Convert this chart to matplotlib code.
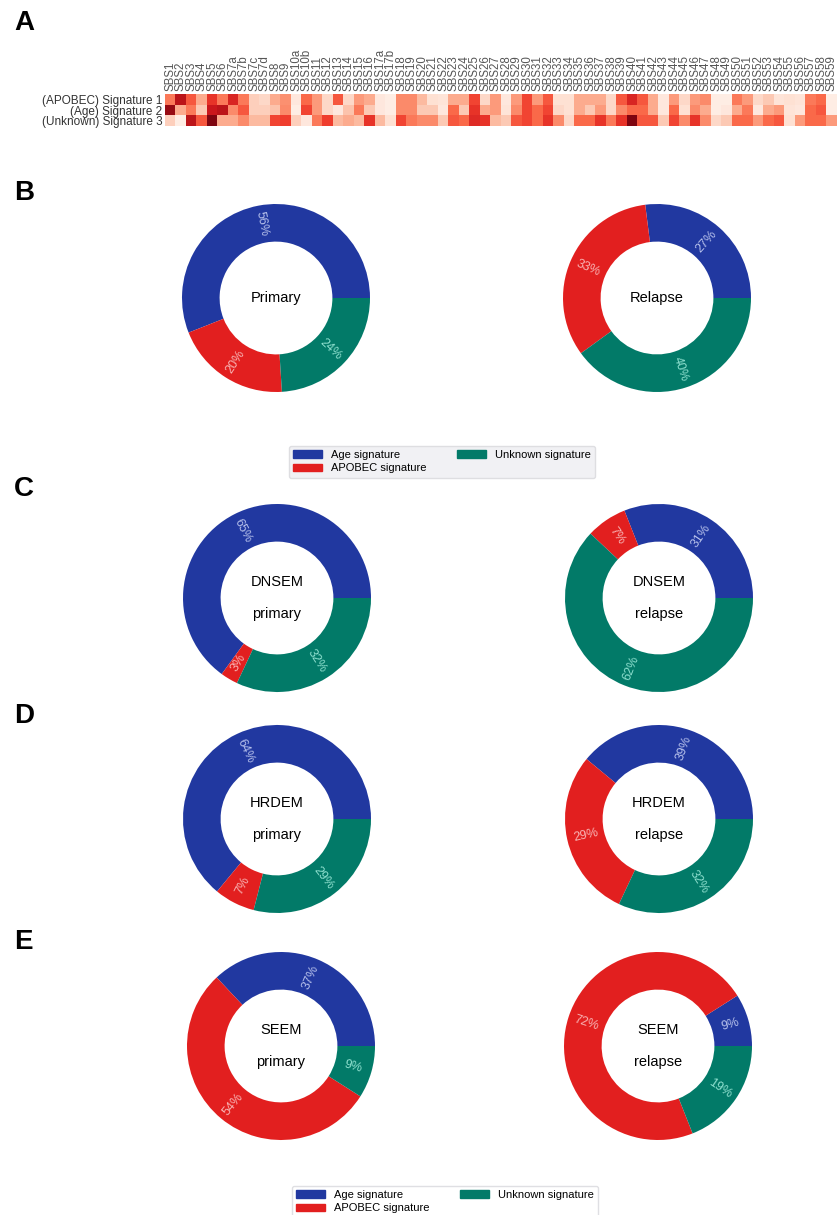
import numpy as np
import matplotlib.pyplot as plt
from matplotlib.colors import to_rgb
from matplotlib.patches import Patch

plt.rcParams['font.family'] = ['Liberation Sans', 'DejaVu Sans']

# --- heatmap data (signature weights, 0..1) ---
sbs_names = ['SBS1', 'SBS2', 'SBS3', 'SBS4', 'SBS5', 'SBS6', 'SBS7a', 'SBS7b', 'SBS7c', 'SBS7d',
             'SBS8', 'SBS9', 'SBS10a', 'SBS10b', 'SBS11', 'SBS12', 'SBS13', 'SBS14', 'SBS15', 'SBS16',
             'SBS17a', 'SBS17b'] + ['SBS%d' % i for i in range(18, 60)]
signature_rows = ['(APOBEC) Signature 1', '(Age) Signature 2', '(Unknown) Signature 3']

apobec_weights = [0.45, 0.80, 0.55, 0.30, 0.65, 0.45, 0.70, 0.45, 0.18, 0.15,
                  0.30, 0.38, 0.08, 0.50, 0.35, 0.15, 0.55, 0.15, 0.35, 0.30,
                  0.08, 0.05, 0.40, 0.40, 0.25, 0.12, 0.10, 0.30, 0.30, 0.60,
                  0.15, 0.35, 0.08, 0.35, 0.60, 0.35, 0.55, 0.12, 0.12, 0.30,
                  0.30, 0.30, 0.15, 0.55, 0.70, 0.55, 0.30, 0.08, 0.35, 0.15,
                  0.35, 0.40, 0.05, 0.05, 0.45, 0.35, 0.15, 0.20, 0.10, 0.12,
                  0.10, 0.45, 0.50, 0.05]
age_weights = [0.90, 0.30, 0.45, 0.20, 0.75, 0.80, 0.40, 0.55, 0.18, 0.18,
               0.22, 0.40, 0.05, 0.60, 0.35, 0.15, 0.08, 0.22, 0.45, 0.20,
               0.08, 0.05, 0.40, 0.40, 0.20, 0.20, 0.08, 0.50, 0.20, 0.65,
               0.30, 0.35, 0.10, 0.40, 0.60, 0.50, 0.60, 0.15, 0.12, 0.30,
               0.20, 0.35, 0.15, 0.40, 0.50, 0.50, 0.30, 0.08, 0.50, 0.12,
               0.40, 0.30, 0.05, 0.08, 0.30, 0.45, 0.08, 0.30, 0.35, 0.10,
               0.08, 0.50, 0.55, 0.05]
unknown_weights = [0.18, 0.05, 0.80, 0.55, 0.95, 0.30, 0.30, 0.40, 0.25, 0.25,
                   0.60, 0.62, 0.18, 0.08, 0.45, 0.62, 0.25, 0.30, 0.25, 0.65,
                   0.25, 0.12, 0.60, 0.45, 0.40, 0.40, 0.20, 0.55, 0.50, 0.68,
                   0.65, 0.25, 0.20, 0.55, 0.60, 0.50, 0.65, 0.40, 0.15, 0.50,
                   0.50, 0.65, 0.45, 0.65, 0.95, 0.55, 0.55, 0.20, 0.60, 0.40,
                   0.65, 0.40, 0.15, 0.20, 0.50, 0.50, 0.35, 0.50, 0.55, 0.12,
                   0.35, 0.50, 0.50, 0.35]

# --- donut data (% of mutations per signature) ---
sig_labels = ['Age signature', 'APOBEC signature', 'Unknown signature']
sig_colors = ['#2138a0', '#e21f1f', '#027a68']
pct_colors = ['#b8c2ec', '#f8b4b4', '#8fe0cf']

primary_all = [56, 20, 24]
relapse_all = [27, 33, 40]
dnsem_primary = [65, 3, 32]
dnsem_relapse = [31, 7, 62]
hrdem_primary = [64, 7, 29]
hrdem_relapse = [39, 29, 32]
seem_primary = [37, 54, 9]
seem_relapse = [9, 72, 19]

W, H = 839, 1215
fig = plt.figure(figsize=(W / 100, H / 100), dpi=100)


def px_axes(x0, y0, w, h):
    return fig.add_axes([x0 / W, 1 - (y0 + h) / H, w / W, h / H])


# panel A: heatmap
ax = px_axes(165, 94, 672, 32)
data = np.array([apobec_weights, age_weights, unknown_weights])
ax.imshow(data, cmap='Reds', aspect='auto', vmin=0, vmax=1, interpolation='nearest')
ax.xaxis.tick_top()
ax.set_xticks(range(len(sbs_names)))
ax.set_xticklabels(sbs_names, rotation=90, fontsize=8.3, color='#555555')
ax.set_yticks(range(3))
ax.set_yticklabels(signature_rows, fontsize=8.5, color='#333333')
ax.tick_params(length=0, pad=2)
for s in ax.spines.values():
    s.set_visible(False)


def donut(cx, cy, vals, title, r=94):
    ax = px_axes(cx - r, cy - r, 2 * r, 2 * r)
    wedges, _, autotexts = ax.pie(vals, colors=sig_colors, startangle=0, radius=1,
                                  autopct='%1.0f%%', pctdistance=0.8,
                                  wedgeprops=dict(width=0.4, edgecolor='none'),
                                  textprops=dict(fontsize=9))
    for w, t, pc in zip(wedges, autotexts, pct_colors):
        mid = (w.theta1 + w.theta2) / 2
        rot = mid if np.cos(np.radians(mid)) >= 0 else mid - 180
        t.set_rotation(rot)
        t.set_rotation_mode('anchor')
        t.set_ha('center')
        t.set_va('center')
        t.set_color(pc)
    lines = title.split('\n')
    if len(lines) == 1:
        ax.text(0, 0, lines[0], ha='center', va='center', fontsize=10.5)
    else:
        ax.text(0, 0.17, lines[0], ha='center', va='center', fontsize=10.5)
        ax.text(0, -0.17, lines[1], ha='center', va='center', fontsize=10.5)
    ax.set_xlim(-1, 1)
    ax.set_ylim(-1, 1)


donut(276, 298, primary_all, 'Primary')
donut(657, 298, relapse_all, 'Relapse')
donut(277, 598, dnsem_primary, 'DNSEM\nprimary')
donut(659, 598, dnsem_relapse, 'DNSEM\nrelapse')
donut(277, 819, hrdem_primary, 'HRDEM\nprimary')
donut(659, 819, hrdem_relapse, 'HRDEM\nrelapse')
donut(281, 1046, seem_primary, 'SEEM\nprimary')
donut(658, 1046, seem_relapse, 'SEEM\nrelapse')

handles = [Patch(color=c, label=l) for c, l in zip(sig_colors, sig_labels)]
fig.legend(handles=handles, ncol=2, loc='upper center', bbox_to_anchor=(442 / W, 1 - 440 / H),
           fontsize=8, frameon=True, facecolor='#eeeef2', edgecolor='#d8d8dc',
           columnspacing=2.8, handlelength=2.6, borderpad=0.4, labelspacing=0.3)
fig.legend(handles=handles, ncol=2, loc='upper center', bbox_to_anchor=(445 / W, 1 - 1180 / H),
           fontsize=8, frameon=True, facecolor='white', edgecolor='#d8d8dc',
           columnspacing=2.8, handlelength=2.6, borderpad=0.4, labelspacing=0.3)

for letter, y in zip('ABCDE', [23, 193, 489, 716, 942]):
    fig.text(14 / W, 1 - y / H, letter, fontsize=20, fontweight='bold', va='center', ha='left')

fig.savefig('out.png', dpi=100)
